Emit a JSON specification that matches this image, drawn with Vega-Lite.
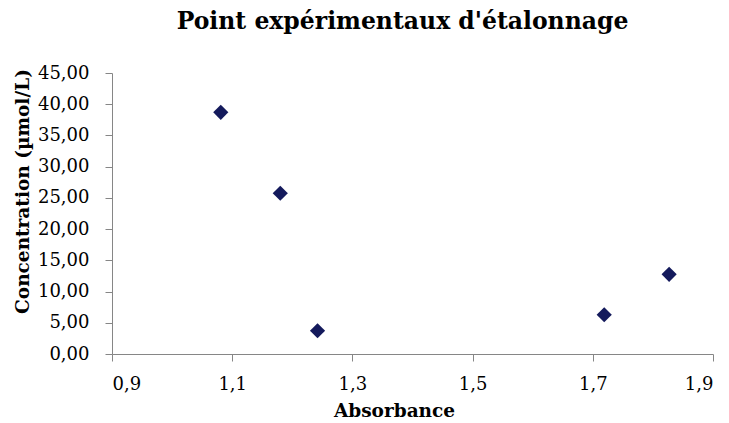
{
  "$schema": "https://vega.github.io/schema/vega-lite/v6.json",
  "autosize": {"type": "none"},
  "width": 601,
  "height": 281,
  "padding": {"left": 112, "top": 73, "right": 16, "bottom": 69},
  "background": "white",
  "title": {
    "text": "Point expérimentaux d'étalonnage",
    "font": "DejaVu Serif",
    "fontSize": 23.5,
    "fontWeight": "bold",
    "color": "#000000",
    "anchor": "middle",
    "offset": 31,
    "dx": -10
  },
  "data": {
    "values": [
      {"absorbance": 1.081, "concentration": 38.7},
      {"absorbance": 1.180, "concentration": 25.74},
      {"absorbance": 1.242, "concentration": 3.73},
      {"absorbance": 1.719, "concentration": 6.29},
      {"absorbance": 1.827, "concentration": 12.76}
    ]
  },
  "mark": {"type": "point", "shape": "diamond", "filled": true, "color": "#141a5c", "size": 230, "opacity": 1},
  "encoding": {
    "x": {
      "field": "absorbance",
      "type": "quantitative",
      "scale": {"domain": [0.9, 1.9], "nice": false, "zero": false},
      "axis": {
        "title": "Absorbance",
        "values": [0.9, 1.1, 1.3, 1.5, 1.7, 1.9],
        "labelExpr": "replace(format(datum.value, '.1f'), '.', ',')",
        "grid": false,
        "domainColor": "#868686",
        "tickColor": "#868686",
        "tickSize": 7,
        "labelFont": "DejaVu Serif",
        "labelFontSize": 18,
        "labelColor": "#000000",
        "labelPadding": 14,
        "titleFont": "DejaVu Serif",
        "titleFontSize": 18.5,
        "titleFontWeight": "bold",
        "titleColor": "#000000",
        "titlePadding": 8,
        "titleX": 282
      }
    },
    "y": {
      "field": "concentration",
      "type": "quantitative",
      "scale": {"domain": [0, 45], "nice": false},
      "axis": {
        "title": "Concentration (µmol/L)",
        "values": [0, 5, 10, 15, 20, 25, 30, 35, 40, 45],
        "labelExpr": "replace(format(datum.value, '.2f'), '.', ',')",
        "grid": false,
        "domainColor": "#868686",
        "tickColor": "#868686",
        "tickSize": 7,
        "labelFont": "DejaVu Serif",
        "labelFontSize": 18,
        "labelColor": "#000000",
        "labelPadding": 16,
        "titleFont": "DejaVu Serif",
        "titleFontSize": 18.5,
        "titleFontWeight": "bold",
        "titleColor": "#000000",
        "titlePadding": 5,
        "titleY": 118
      }
    }
  },
  "config": {"view": {"stroke": null}}
}
